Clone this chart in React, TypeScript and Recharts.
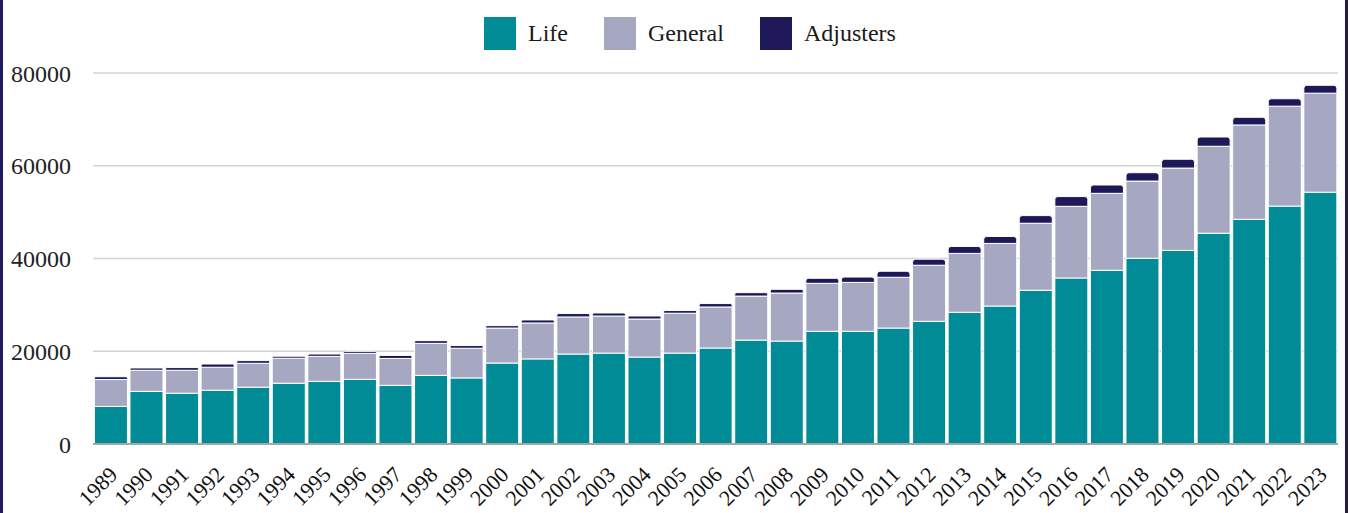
import { BarChart, Bar, XAxis, YAxis, CartesianGrid, Legend } from 'recharts';

const years = [
  '1989', '1990', '1991', '1992', '1993', '1994', '1995', '1996', '1997', '1998',
  '1999', '2000', '2001', '2002', '2003', '2004', '2005', '2006', '2007', '2008',
  '2009', '2010', '2011', '2012', '2013', '2014', '2015', '2016', '2017', '2018',
  '2019', '2020', '2021', '2022', '2023',
];

const life = [
  8100, 11350, 10950, 11600, 12250, 13100, 13500, 13950, 12650, 14800,
  14250, 17450, 18350, 19400, 19600, 18750, 19600, 20700, 22400, 22200,
  24300, 24300, 25000, 26450, 28400, 29750, 33150, 35800, 37450, 40050,
  41750, 45450, 48450, 51300, 54300,
];

const general = [
  5800, 4550, 4950, 4950, 5150, 5400, 5400, 5600, 5800, 6900,
  6400, 7550, 7750, 8000, 8000, 8200, 8600, 8850, 9500, 10350,
  10350, 10550, 10950, 12100, 12700, 13500, 14450, 15450, 16600, 16650,
  17750, 18750, 20350, 21550, 21350,
];

const adjusters = [
  600, 500, 580, 700, 580, 430, 500, 430, 650, 580,
  580, 520, 650, 730, 650, 650, 580, 730, 730, 800,
  1080, 1150, 1300, 1300, 1500, 1500, 1650, 2100, 1800, 1800,
  1900, 2000, 1650, 1600, 1700,
];

const yTicks = [0, 20000, 40000, 60000, 80000];

const COLORS = {
  life: '#008b96',
  general: '#a6a8c2',
  adjusters: '#1e1858',
};

const FONT = '"Liberation Serif", "Times New Roman", serif';

const data = years.map((year, i) => ({
  year,
  life: life[i],
  general: general[i],
  adjusters: adjusters[i],
}));

const legendItems = [
  { key: 'life', label: 'Life', color: COLORS.life },
  { key: 'general', label: 'General', color: COLORS.general },
  { key: 'adjusters', label: 'Adjusters', color: COLORS.adjusters },
];

function LegendContent() {
  return (
    <div style={{ display: 'flex', alignItems: 'center', paddingLeft: 484, fontFamily: FONT }}>
      {legendItems.map((item, i) => (
        <div key={item.key} style={{ display: 'flex', alignItems: 'center', marginRight: i < 2 ? 36 : 0 }}>
          <div style={{ width: 32, height: 33, backgroundColor: item.color, marginRight: 12 }} />
          <span style={{ fontSize: 24, color: '#1a1a1a' }}>{item.label}</span>
        </div>
      ))}
    </div>
  );
}

// rotated year labels, anchored at their right end just below the axis
function YearTick(props: any) {
  const { x, y, payload } = props;
  const ax = x + 8;
  const ay = y + 32;
  return (
    <text
      x={ax}
      y={ay}
      textAnchor="end"
      transform={`rotate(-45, ${ax}, ${ay})`}
      fontSize={22}
      fontFamily={FONT}
      fill="#111"
    >
      {payload.value}
    </text>
  );
}

export default function App() {
  return (
    <div style={{ position: 'absolute', left: 0, top: 0, width: 1350, height: 513, background: '#fff', overflow: 'hidden' }}>
      {/* side rules of the framing box */}
      <div
        style={{
          position: 'absolute',
          left: 0,
          top: -20,
          width: 1348,
          height: 560,
          boxSizing: 'border-box',
          border: '3px solid #1f1a5a',
        }}
      />
      <div style={{ position: 'absolute', left: 0, top: 0 }}>
        <BarChart
          width={1345}
          height={513}
          data={data}
          barCategoryGap="4%"
          margin={{ top: 73, right: 7, left: 0, bottom: 0 }}
        >
          <CartesianGrid vertical={false} stroke="#d3d3d3" strokeWidth={1.5} />
          <XAxis
            dataKey="year"
            height={69}
            interval={0}
            tickLine={false}
            tickSize={0}
            tickMargin={0}
            axisLine={{ stroke: '#a6a6a6', strokeWidth: 2 }}
            tick={<YearTick />}
          />
          <YAxis
            width={93}
            domain={[0, 80000]}
            ticks={yTicks}
            axisLine={false}
            tickLine={false}
            tickSize={0}
            tickMargin={22}
            tick={{ fill: '#222', fontSize: 24, fontFamily: FONT }}
          />
          <Legend
            verticalAlign="middle"
            align="center"
            layout="horizontal"
            wrapperStyle={{ top: 17, left: 0, width: 1345 }}
            content={<LegendContent />}
          />
          <Bar dataKey="life" stackId="a" fill={COLORS.life} stroke="#ffffff" strokeWidth={1} isAnimationActive={false} />
          <Bar dataKey="general" stackId="a" fill={COLORS.general} stroke="#ffffff" strokeWidth={1} isAnimationActive={false} />
          <Bar
            dataKey="adjusters"
            stackId="a"
            fill={COLORS.adjusters}
            stroke="#ffffff"
            strokeWidth={1}
            radius={[3, 3, 0, 0]}
            isAnimationActive={false}
          />
        </BarChart>
      </div>
    </div>
  );
}
